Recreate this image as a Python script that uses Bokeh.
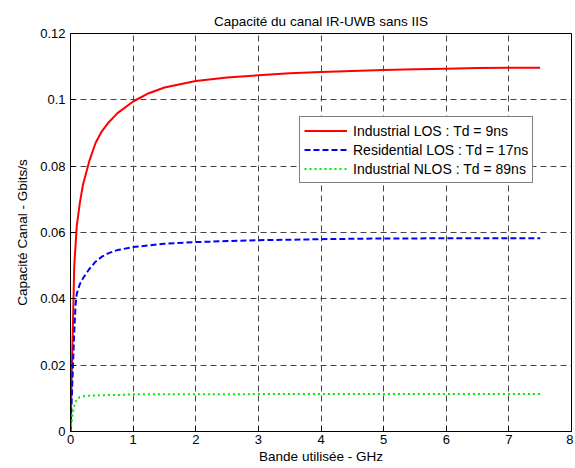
from bokeh.plotting import figure
from bokeh.models import Range1d, FixedTicker, Legend, LegendItem
from bokeh.embed import file_html
from bokeh.resources import INLINE

# ---- data ----
bande_ghz = [0, 0.02, 0.04, 0.06, 0.08, 0.1, 0.15, 0.2, 0.3, 0.4, 0.5, 0.6, 0.75,
             1.0, 1.25, 1.5, 2.0, 2.5, 3.0, 3.5, 4.0, 4.5, 5.0, 5.5, 6.0, 6.5, 7.0, 7.5]
industrial_los = [0, 0.018, 0.033, 0.050, 0.056, 0.062, 0.069, 0.0745, 0.0815, 0.087, 0.0905,
                  0.093, 0.096, 0.0995, 0.102, 0.1037, 0.1057, 0.1067, 0.1074, 0.108, 0.1084,
                  0.1087, 0.109, 0.1092, 0.1094, 0.1096, 0.1097, 0.1097]
residential_los = [0, 0.010, 0.020, 0.030, 0.038, 0.0415, 0.0445, 0.0462, 0.049, 0.0512, 0.0527,
                   0.0537, 0.0547, 0.0556, 0.0561, 0.0566, 0.0571, 0.0574, 0.0577, 0.0578, 0.0580,
                   0.0581, 0.0582, 0.0582, 0.0583, 0.0583, 0.0583, 0.0583]
industrial_nlos = [0, 0.003, 0.006, 0.0078, 0.0089, 0.0097, 0.0104, 0.0106, 0.0108, 0.0109, 0.0109,
                   0.0110, 0.0110, 0.0112, 0.0112, 0.0112, 0.0112, 0.0112, 0.0113, 0.0113, 0.0113,
                   0.0113, 0.0113, 0.0113, 0.0113, 0.0113, 0.0113, 0.0113]
series_labels = ["Industrial LOS : Td = 9ns", "Residential LOS : Td = 17ns",
                 "Industrial NLOS : Td = 89ns"]
x_ticks = [0, 1, 2, 3, 4, 5, 6, 7, 8]
x_tick_labels = ["0", "1", "2", "3", "4", "5", "6", "7", "8"]
y_ticks = [0, 0.02, 0.04, 0.06, 0.08, 0.1, 0.12]
y_tick_labels = ["0", "0.02", "0.04", "0.06", "0.08", "0.1", "0.12"]

FONT = "Liberation Sans"

p = figure(width=573, height=466, output_backend="svg", toolbar_location=None,
           x_range=Range1d(0, 8), y_range=Range1d(0, 0.12),
           title="Capacité du canal IR-UWB sans IIS")
p.min_border_left = 70
p.min_border_right = 2
p.min_border_top = 33
p.min_border_bottom = 35
p.background_fill_color = "white"
p.border_fill_color = "white"
p.outline_line_color = "black"
p.outline_line_width = 1

p.title.align = "center"
p.title.text_font = FONT
p.title.text_font_size = "13.5px"
p.title.text_font_style = "normal"
p.title.text_color = "black"

for ax, ticks, labels in ((p.xaxis[0], x_ticks, x_tick_labels), (p.yaxis[0], y_ticks, y_tick_labels)):
    ax.ticker = FixedTicker(ticks=ticks)
    ax.major_label_overrides = {t: l for t, l in zip(ticks, labels)}
    ax.major_tick_in = 5
    ax.major_tick_out = 0
    ax.minor_tick_in = 0
    ax.minor_tick_out = 0
    ax.axis_line_color = "black"
    ax.major_tick_line_color = "black"
    ax.major_label_text_font = FONT
    ax.major_label_text_font_size = "13px"
    ax.major_label_text_color = "black"
    ax.axis_label_text_font = FONT
    ax.axis_label_text_font_size = "13.5px"
    ax.axis_label_text_font_style = "normal"
    ax.axis_label_text_color = "black"

p.xaxis.axis_label = "Bande utilisée - GHz"
p.yaxis.axis_label = "Capacité Canal - Gbits/s"
p.xaxis.major_label_standoff = 3
p.xaxis.axis_label_standoff = 2
p.yaxis.major_label_standoff = 5
p.yaxis.axis_label_standoff = 7

for g, ticks in ((p.xgrid[0], x_ticks), (p.ygrid[0], y_ticks)):
    g.ticker = FixedTicker(ticks=ticks)
    g.grid_line_color = "#444444"
    g.grid_line_dash = "6 4"
    g.grid_line_width = 1

r1 = p.line(bande_ghz, industrial_los, line_color="#ff0000", line_width=2)
r2 = p.line(bande_ghz, residential_los, line_color="#0000ff", line_width=2, line_dash="6 3")
r3 = p.line(bande_ghz, industrial_nlos, line_color="#00ee00", line_width=2, line_dash="2 3")

legend = Legend(items=[LegendItem(label=series_labels[0], renderers=[r1]),
                       LegendItem(label=series_labels[1], renderers=[r2]),
                       LegendItem(label=series_labels[2], renderers=[r3])],
                location=(229, 248))
legend.padding = 4
legend.margin = 0
legend.spacing = 0
legend.glyph_width = 43
legend.glyph_height = 19
legend.label_height = 19
legend.label_standoff = 6
legend.label_text_font = FONT
legend.label_text_font_size = "14px"
legend.label_text_color = "black"
legend.border_line_color = "black"
legend.border_line_width = 1
legend.background_fill_color = "white"
legend.background_fill_alpha = 1
p.add_layout(legend, "center")

open("out.html", "w").write(file_html(p, INLINE))
